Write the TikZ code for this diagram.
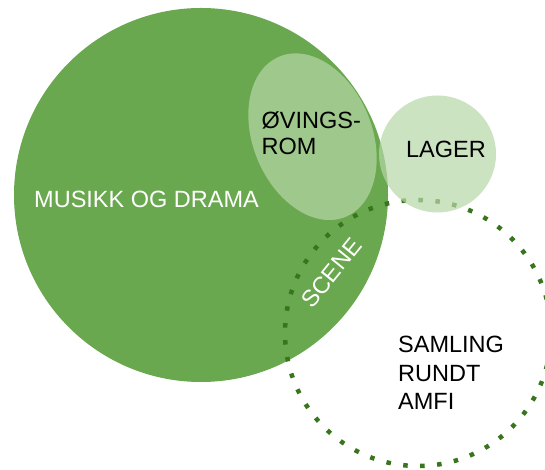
\documentclass[tikz,border=0pt]{standalone}
\usepackage{fontspec}
\setmainfont{Liberation Sans}
\definecolor{mgreen}{HTML}{6AA84F}
\definecolor{lgreen}{HTML}{B6D7A8}
\definecolor{dgreen}{HTML}{38761D}
\begin{document}
\begin{tikzpicture}[x=1pt,y=1pt,
  bigarea/.style={fill=mgreen, draw=none},
  lightarea/.style={fill=lgreen, fill opacity=0.7, draw=none},
  dotring/.style={draw=dgreen, line width=4.5pt, dash pattern=on 4.5pt off 12.5pt},
  lbl/.style={font=\fontsize{23.5}{27}\selectfont, inner sep=0pt, align=left}]
\useasboundingbox (0,0) rectangle (545,470);
% big circle
\node[bigarea, circle, minimum size=374pt, inner sep=0pt] (musikk) at (201,275) {};
% dotted ring
\node[dotring, circle, minimum size=266pt, inner sep=0pt] (amfi) at (418,137) {};
% rehearsal room ellipse
\fill[lightarea] (312.5,333.3) ellipse [x radius=59.5, y radius=86.7, rotate=22.4];
\coordinate (ovc) at (312.5,333.3);
% storage circle
\node[lightarea, circle, minimum size=117pt, inner sep=0pt] (lager) at (437.5,316) {};
% labels
\node[lbl, text=white, anchor=base] (tmusikk) at (146.5,262.3) {MUSIKK OG DRAMA};
\node[lbl, anchor=base west, font=\fontsize{23.5}{26.7}\selectfont] (tov) at (261.5,315) {ØVINGS-\\ROM};
\node[lbl, anchor=base] (tlager) at (446,312.3) {LAGER};
\node[lbl, anchor=base west, font=\fontsize{23.5}{28.9}\selectfont] (tsam) at (398,60) {SAMLING\\RUNDT\\AMFI};
\node[lbl, text=white, rotate=51] (tscene) at (331.5,197) {SCENE};
\end{tikzpicture}
\end{document}
